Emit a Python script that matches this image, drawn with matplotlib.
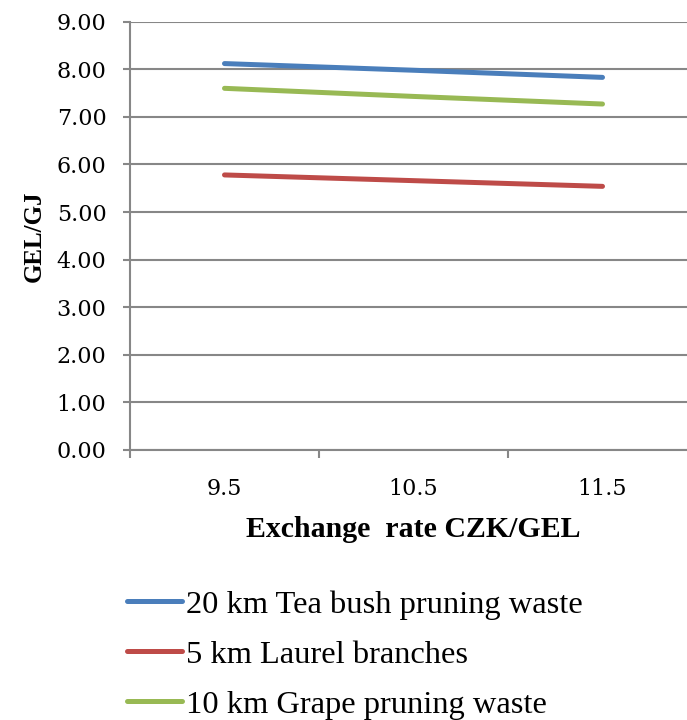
import matplotlib.pyplot as plt
from matplotlib.ticker import FixedLocator

# data
rates = ["9.5", "10.5", "11.5"]
tea_20km = [8.12, 7.98, 7.83]
laurel_5km = [5.78, 5.66, 5.54]
grape_10km = [7.60, 7.43, 7.27]

labels = ["20 km Tea bush pruning waste", "5 km Laurel branches", "10 km Grape pruning waste"]
colors = ["#4A7EBB", "#BE4B48", "#98B954"]

serif = ["Liberation Serif", "DejaVu Serif"]
tick_font = ["DejaVu Serif"]
grid_c = "#878787"

fig = plt.figure(figsize=(6.87, 7.2), dpi=100)
# plot area runs a bit past the right edge, like the original
ax = fig.add_axes([130 / 687, 270 / 720, 567 / 687, 428.3 / 720])

x = range(len(rates))
for vals, lab, col in zip([tea_20km, laurel_5km, grape_10km], labels, colors):
    ax.plot(x, vals, color=col, lw=3.6, solid_capstyle="round", label=lab)

ax.set_xlim(-0.5, 2.5)
ax.set_ylim(0, 9)
ax.set_yticks(range(0, 10))
ax.set_yticklabels([f"{v:.2f}" for v in range(0, 10)], fontfamily=tick_font, fontsize=16)
ax.set_xticks(list(x))
ax.set_xticklabels(rates, fontfamily=tick_font, fontsize=16)
ax.xaxis.set_minor_locator(FixedLocator([-0.5, 0.5, 1.5, 2.5]))
ax.tick_params(axis="x", which="major", length=0, pad=20)
ax.tick_params(axis="x", which="minor", length=6, width=1.5, color=grid_c)
ax.tick_params(axis="y", length=5.4, width=1.5, color=grid_c, pad=11.5)

ax.grid(axis="y", color=grid_c, lw=1.5)
ax.set_axisbelow(True)
for s in ["top", "right"]:
    ax.spines[s].set_visible(False)
for s in ["left", "bottom"]:
    ax.spines[s].set_color(grid_c)
    ax.spines[s].set_linewidth(1.5)

ax.set_xlabel("Exchange  rate CZK/GEL", fontfamily=serif, fontweight="bold", fontsize=21.5, labelpad=12)
ax.set_ylabel("GEL/GJ", fontfamily=serif, fontweight="bold", fontsize=18, labelpad=8)

fig.legend(loc="upper left", bbox_to_anchor=(127 / 687, 1 - 590 / 720), frameon=False,
           prop={"family": serif, "size": 23.4}, handlelength=1.7, handletextpad=0.12,
           labelspacing=0.62, borderaxespad=0, borderpad=0)

fig.savefig("out.png", dpi=100)
